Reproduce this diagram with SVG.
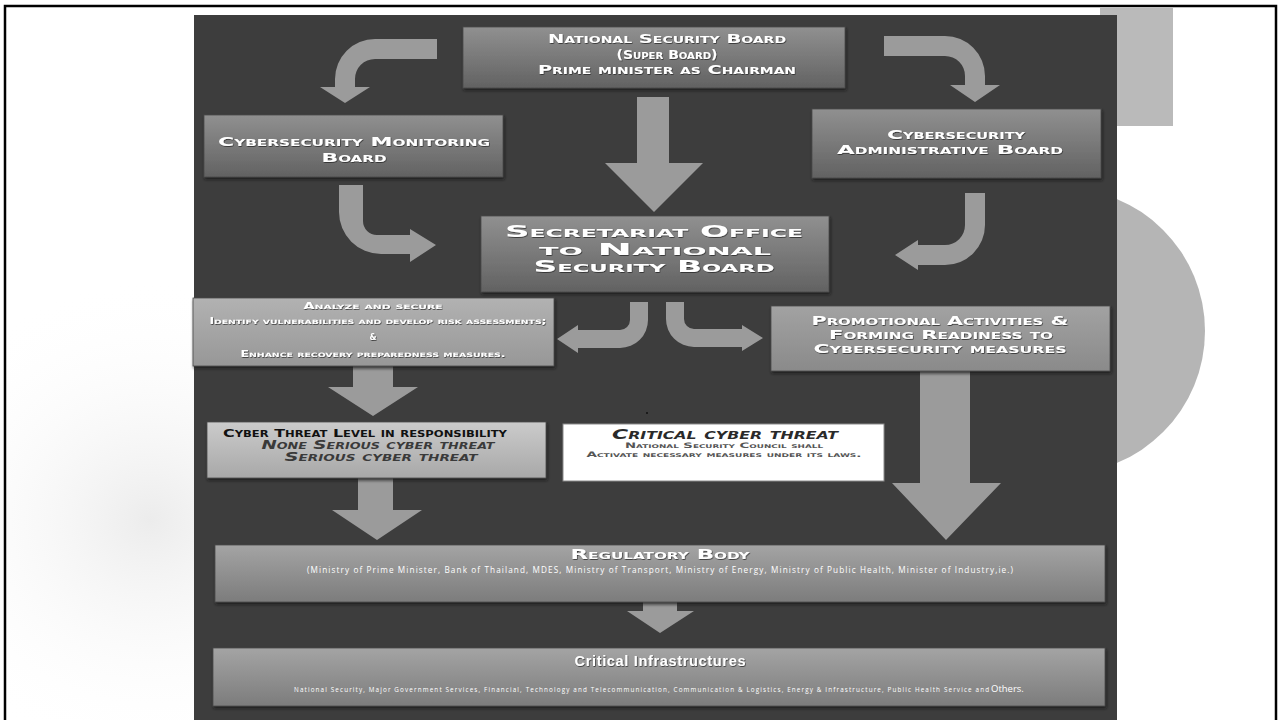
<svg xmlns="http://www.w3.org/2000/svg" width="1281" height="720" viewBox="0 0 1281 720">
<defs>
<linearGradient id="gBox" x1="0" y1="0" x2="0" y2="1"><stop offset="0" stop-color="#909090"/><stop offset="1" stop-color="#626262"/></linearGradient>
<linearGradient id="gAna" x1="0" y1="0" x2="0" y2="1"><stop offset="0" stop-color="#b2b2b2"/><stop offset="1" stop-color="#979797"/></linearGradient>
<linearGradient id="gProm" x1="0" y1="0" x2="0" y2="1"><stop offset="0" stop-color="#a2a2a2"/><stop offset="1" stop-color="#8a8a8a"/></linearGradient>
<linearGradient id="gThr" x1="0" y1="0" x2="0" y2="1"><stop offset="0" stop-color="#cbcbcb"/><stop offset="1" stop-color="#a8a8a8"/></linearGradient>
<linearGradient id="gReg" x1="0" y1="0" x2="0" y2="1"><stop offset="0" stop-color="#a4a4a4"/><stop offset="1" stop-color="#7c7c7c"/></linearGradient>
<radialGradient id="gShade" cx="0.5" cy="0.5" r="0.5"><stop offset="0" stop-color="#ececec"/><stop offset="1" stop-color="#ffffff" stop-opacity="0"/></radialGradient>
<filter id="sh" x="-5%" y="-10%" width="110%" height="130%"><feDropShadow dx="1" dy="2" stdDeviation="1.5" flood-color="#1a1a1a" flood-opacity="0.8"/></filter>
<filter id="tsh" x="-5%" y="-30%" width="110%" height="160%"><feDropShadow dx="0.6" dy="0.8" stdDeviation="0.4" flood-color="#222" flood-opacity="0.9"/></filter>
</defs>
<style>
.cap{font-family:"DejaVu Sans","Liberation Sans",sans-serif;font-weight:bold;font-variant:small-caps;}
.w{fill:#ffffff;}
.arr{fill:#9b9b9b;}
.box{stroke:#4a4a4a;stroke-width:0.8;filter:url(#sh);}
.sans{font-family:"Open Sans","Liberation Sans",sans-serif;}
</style>
<!-- background -->
<rect x="0" y="0" width="1281" height="720" fill="#ffffff"/>
<ellipse cx="150" cy="520" rx="260" ry="240" fill="url(#gShade)"/>
<rect x="5" y="6" width="1271" height="716" fill="none" stroke="#000" stroke-width="2.5"/>
<rect x="1100" y="8" width="73" height="118" fill="#bababa"/>
<circle cx="1062" cy="331" r="143" fill="#b5b5b5"/>
<rect x="194" y="15" width="923" height="710" fill="#3d3d3d"/>
<circle cx="647" cy="413" r="1" fill="#111"/>

<g id="connectors">
<path class="arr" d="M437,39 H375 A40,40 0 0 0 335,79 V87 H320 L345,103 L370,87 H355 V79 A20,20 0 0 1 375,59 H437 Z"/>
<path class="arr" d="M884,36 H945 A40,40 0 0 1 985,76 V85 H1000 L975,102 L950,85 H965 V76 A20,20 0 0 0 945,56 H884 Z"/>
<path class="arr" d="M637,97 H669 V163 H703 L654,212 L605,163 H637 Z"/>
<path class="arr" d="M339,185 H363 V221 A14,14 0 0 0 377,235 H410 V229 L436,245 L410,262 V254 H381 A42,42 0 0 1 339,212 Z"/>
<path class="arr" d="M965,193 H985 V225 A40,40 0 0 1 945,265 H918 V270 L895,255 L918,240 V245 H945 A20,20 0 0 0 965,225 Z"/>
<path class="arr" d="M630,302 H648 V320 A28,28 0 0 1 620,348 H578 V353 L557,339 L578,325 V330 H620 A10,10 0 0 0 630,320 Z"/>
<path class="arr" d="M666,302 H684 V319 A10,10 0 0 0 694,329 H742 V325 L763,338 L742,351 V347 H694 A28,28 0 0 1 666,319 Z"/>
<path class="arr" d="M353,366 H393 V387 H418 L373,416 L328,387 H353 Z"/>
<path class="arr" d="M358,478 H393 V510 H422 L377,540 L332,510 H358 Z"/>
<path class="arr" d="M920,371 H970 V483 H1001 L946,540 L892,483 H920 Z"/>
<path class="arr" d="M643,602 H677 V611 H694 L660,633 L627,611 H643 Z"/>
</g>

<g id="national-security-board">
<rect class="box" x="463" y="27" width="382" height="61" fill="url(#gBox)"/>
<g class="cap w" font-size="12.5" text-anchor="middle" filter="url(#tsh)">
<text x="667" y="43" textLength="238" lengthAdjust="spacingAndGlyphs">National Security Board</text>
<text x="667" y="59" textLength="101" lengthAdjust="spacingAndGlyphs">(Super Board)</text>
<text x="667" y="74" textLength="258" lengthAdjust="spacingAndGlyphs">Prime minister as Chairman</text>
</g>
</g>

<g id="monitoring-board">
<rect class="box" x="204" y="115" width="299" height="62" fill="url(#gBox)"/>
<g class="cap w" font-size="13" text-anchor="middle" filter="url(#tsh)">
<text x="354" y="146" textLength="272" lengthAdjust="spacingAndGlyphs">Cybersecurity Monitoring</text>
<text x="354" y="162" textLength="65" lengthAdjust="spacingAndGlyphs">Board</text>
</g>
</g>

<g id="administrative-board">
<rect class="box" x="812" y="109" width="289" height="69" fill="url(#gBox)"/>
<g class="cap w" font-size="12" text-anchor="middle" filter="url(#tsh)">
<text x="956" y="139" textLength="138" lengthAdjust="spacingAndGlyphs">Cybersecurity</text>
<text x="950" y="154" textLength="226" lengthAdjust="spacingAndGlyphs">Administrative Board</text>
</g>
</g>

<g id="secretariat">
<rect class="box" x="481" y="216" width="348" height="76" fill="url(#gBox)"/>
<g class="cap w" font-size="16" text-anchor="middle" filter="url(#tsh)">
<text x="654" y="237" textLength="298" lengthAdjust="spacingAndGlyphs">Secretariat Office</text>
<text x="655" y="254.5" textLength="232" lengthAdjust="spacingAndGlyphs">to National</text>
<text x="654" y="272" textLength="241" lengthAdjust="spacingAndGlyphs">Security Board</text>
</g>
</g>

<g id="analyze">
<rect class="box" x="193" y="298" width="361" height="68" fill="url(#gAna)"/>
<g class="cap w" font-size="8" text-anchor="middle" filter="url(#tsh)">
<text x="373" y="309" textLength="139" lengthAdjust="spacingAndGlyphs">Analyze and secure</text>
<text x="378" y="324" textLength="337" lengthAdjust="spacingAndGlyphs">Identify vulnerabilities and develop risk assessments;</text>
<text x="373" y="340">&amp;</text>
<text x="373" y="357" textLength="265" lengthAdjust="spacingAndGlyphs">Enhance recovery preparedness measures.</text>
</g>
</g>

<g id="promotional">
<rect class="box" x="771" y="306" width="339" height="65" fill="url(#gProm)"/>
<g class="cap w" font-size="12.5" text-anchor="middle" filter="url(#tsh)">
<text x="940" y="325" textLength="257" lengthAdjust="spacingAndGlyphs">Promotional Activities &amp;</text>
<text x="941" y="339" textLength="224" lengthAdjust="spacingAndGlyphs">Forming Readiness to</text>
<text x="940" y="353" textLength="253" lengthAdjust="spacingAndGlyphs">Cybersecurity measures</text>
</g>
</g>

<g id="threat-level">
<rect class="box" x="207" y="422" width="339" height="56" fill="url(#gThr)"/>
<g class="cap" text-anchor="middle">
<text x="365" y="437" font-size="11" fill="#111" textLength="284" lengthAdjust="spacingAndGlyphs">Cyber Threat Level in responsibility</text>
<text x="378" y="449" font-size="11.5" fill="#3a3a3a" font-style="italic" textLength="233" lengthAdjust="spacingAndGlyphs">None Serious cyber threat</text>
<text x="381" y="461" font-size="11.5" fill="#3a3a3a" font-style="italic" textLength="193" lengthAdjust="spacingAndGlyphs">Serious cyber threat</text>
</g>
</g>

<g id="critical-threat">
<rect x="563" y="424" width="321" height="57" fill="#ffffff" stroke="#8a8a8a" stroke-width="1"/>
<g class="cap" text-anchor="middle">
<text x="725" y="439" font-size="14" fill="#2a2a2a" font-style="italic" textLength="226" lengthAdjust="spacingAndGlyphs">Critical cyber threat</text>
<text x="724" y="448" font-size="7.5" fill="#555" textLength="198" lengthAdjust="spacingAndGlyphs">National Security Council shall</text>
<text x="724" y="457" font-size="7.5" fill="#555" textLength="275" lengthAdjust="spacingAndGlyphs">Activate necessary measures under its laws.</text>
</g>
</g>

<g id="regulatory-body">
<rect class="box" x="215" y="545" width="890" height="57" fill="url(#gReg)"/>
<text class="cap w" x="660" y="559" font-size="13.5" text-anchor="middle" filter="url(#tsh)" textLength="179" lengthAdjust="spacingAndGlyphs">Regulatory Body</text>
<text class="sans w" x="660" y="573" font-size="8.2" text-anchor="middle" textLength="706">(Ministry of Prime Minister, Bank of Thailand, MDES, Ministry of Transport, Ministry of Energy, Ministry of Public Health, Minister of Industry,ie.)</text>
</g>

<g id="critical-infrastructures">
<rect class="box" x="213" y="648" width="892" height="58" fill="url(#gReg)"/>
<text class="w" x="660" y="666" font-family="Liberation Sans, Arial, sans-serif" font-weight="bold" font-size="14.5" text-anchor="middle" filter="url(#tsh)" textLength="171">Critical Infrastructures</text>
<text class="sans w" x="294" y="692" font-size="6.3" textLength="695">National Security, Major Government Services, Financial, Technology and Telecommunication, Communication &amp; Logistics, Energy &amp; Infrastructure, Public Health Service and</text>
<text class="sans w" x="991" y="692" font-size="9.5">Others.</text>
</g>
</svg>
